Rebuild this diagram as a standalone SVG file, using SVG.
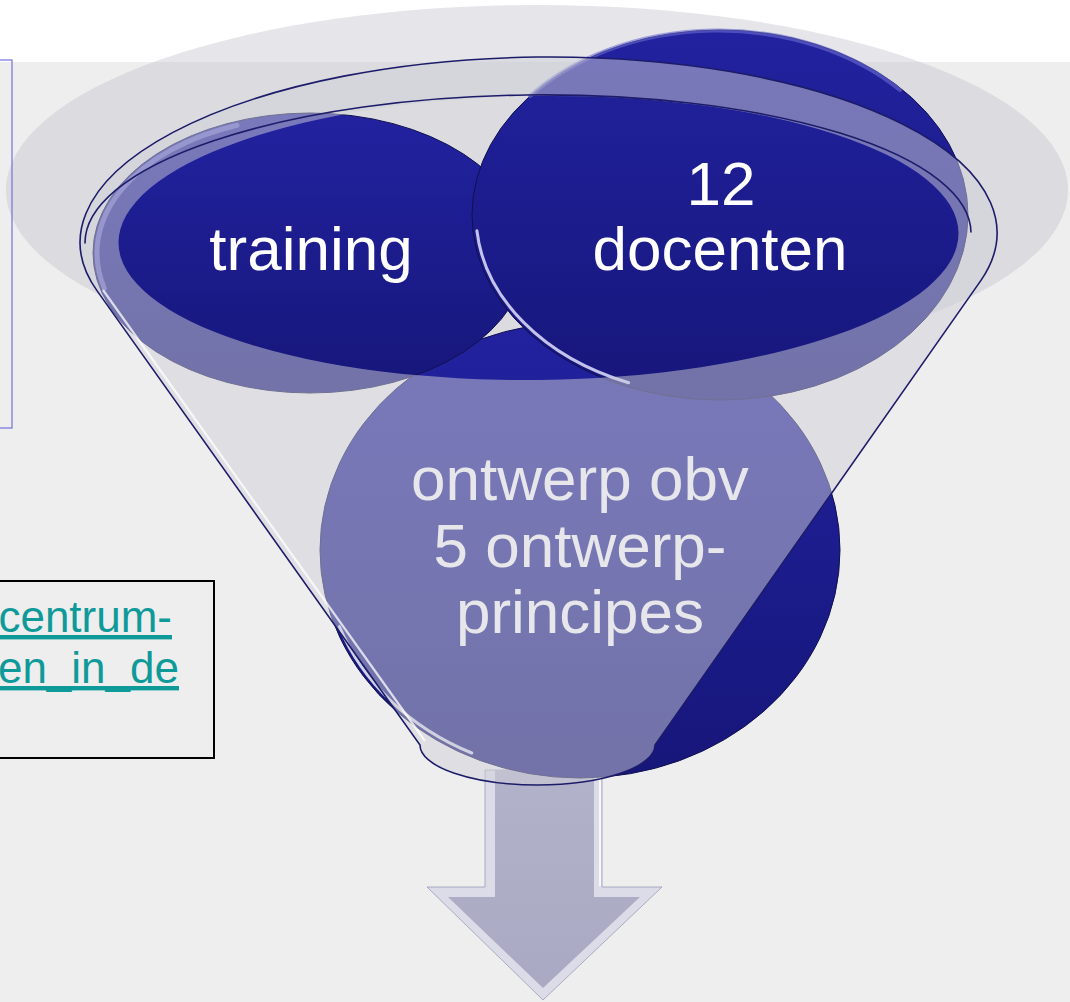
<svg xmlns="http://www.w3.org/2000/svg" width="1070" height="1002" viewBox="0 0 1070 1002">
  <defs>
    <linearGradient id="blue" x1="0" y1="0" x2="0" y2="1">
      <stop offset="0" stop-color="#2222a0"/>
      <stop offset="1" stop-color="#16167a"/>
    </linearGradient>
    <linearGradient id="arrowFill" x1="0" y1="0" x2="0" y2="1">
      <stop offset="0" stop-color="#b2b2ca"/>
      <stop offset="1" stop-color="#a9a9c3"/>
    </linearGradient>
    <style>
      .disc { fill: url(#blue); stroke: #10104e; stroke-width: 1; }
      .lbl { font-family: "Liberation Sans", Arial, sans-serif; font-size: 62px; text-anchor: middle; }
      .lbl-white { fill: #ffffff; }
      .hl { fill: none; stroke-linecap: round; }
      .outline { fill: none; stroke: #1c1c6a; stroke-width: 1.6; }
      .link { font-family: "Liberation Sans", Arial, sans-serif; font-size: 44px; fill: #0f9a9a; text-decoration: underline; text-anchor: end; }
    </style>
  </defs>

  <!-- background -->
  <rect x="0" y="0" width="1070" height="1002" fill="#ffffff"/>
  <rect x="0" y="62" width="1070" height="940" fill="#eeeeee"/>

  <!-- shadow ellipse behind funnel -->
  <ellipse cx="537" cy="190" rx="531" ry="185" fill="#bebecb" opacity="0.4"/>

  <!-- left boxes -->
  <g id="note-box-top">
    <rect x="-2" y="60" width="14" height="368" fill="none" stroke="#7272dc" stroke-width="1.2"/>
  </g>
  <g id="note-box-link">
    <rect x="-2" y="581" width="216" height="177" fill="none" stroke="#000000" stroke-width="2"/>
    <text class="link" x="172" y="632">centrum-</text>
    <text class="link" x="179" y="683">en_in_de</text>
  </g>

  <!-- connector: down arrow -->
  <g id="connectors">
    <polygon points="485,770 602,770 602,887 662,887 543,1000 427,887 485,887" fill="#dcdce8" stroke="#9a9ab6" stroke-width="0.8"/>
    <polygon points="495,770 594,770 594,897 640,897 543,988 448,897 495,897" fill="url(#arrowFill)"/>
    <line x1="600" y1="772" x2="600" y2="886" stroke="#ffffff" stroke-width="2" opacity="0.8"/>
  </g>

  <!-- bottom circle -->
  <g id="node-ontwerp">
    <ellipse class="disc" cx="580" cy="550" rx="260" ry="228"/>
    <path class="hl" d="M339.4,626.6 A256,224 0 0 0 471.8,753" stroke="#ffffff" stroke-width="3" opacity="0.8"/>
    <text class="lbl lbl-white" x="580" y="500">ontwerp obv</text>
    <text class="lbl lbl-white" x="580" y="567">5 ontwerp-</text>
    <text class="lbl lbl-white" x="580" y="633">principes</text>
  </g>

  <!-- training -->
  <g id="node-training">
    <ellipse class="disc" cx="310" cy="253" rx="217" ry="140"/>
    <path class="hl" d="M104.3,288.2 A213,136 0 0 1 237.1,125.2" stroke="#7a7ad8" stroke-width="5" opacity="0.7"/>
    <text class="lbl lbl-white" x="311" y="270">training</text>
  </g>

  <!-- 12 docenten -->
  <g id="node-docenten">
    <ellipse class="disc" cx="720" cy="215" rx="248" ry="185"/>
    <path class="hl" d="M530,96 A246,183 0 0 1 900,90" stroke="#6a6ad0" stroke-width="4" opacity="0.6"/>
    <path class="hl" d="M476.9,230.8 A244,181 0 0 0 628.6,382.8" stroke="#e0e0ff" stroke-width="3" opacity="0.85"/>
    <text class="lbl lbl-white" x="721" y="205">12</text>
    <text class="lbl lbl-white" x="720" y="270">docenten</text>
  </g>

  <!-- funnel -->
  <g id="funnel">
    <path fill="#cfcfd8" opacity="0.5" fill-rule="evenodd"
      d="M97.3,291.1 A458.5,180.5 -0.7 1 1 980.8,280.6 L655,745 A117.5,40 0 0 1 420,745 Z
         M118.5,243.1 A420,142 -0.7 1 1 958.5,232.9 A420,142 -0.7 1 1 118.5,243.1 Z"/>
    <line x1="103" y1="290" x2="425" y2="741" stroke="#ffffff" stroke-width="2.2" opacity="0.75"/>
    <path class="outline" d="M97.3,291.1 A458.5,180.5 -0.7 1 1 980.8,280.6 L655,745 A117.5,40 0 0 1 420,745 Z"/>
    <path class="outline" d="M85,243.4 A443,143 -0.7 0 1 971,232.6" stroke-width="1.3"/>
  </g>
</svg>
